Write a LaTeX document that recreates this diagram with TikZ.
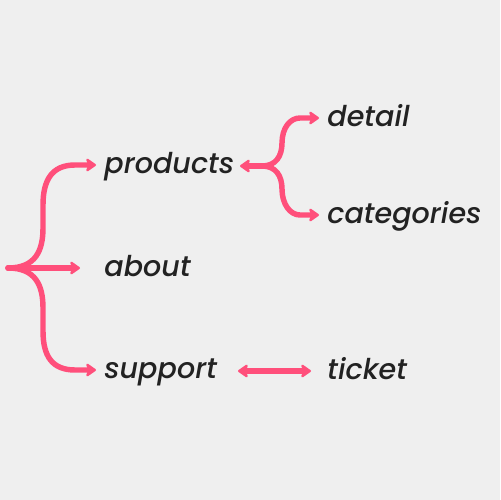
\documentclass[tikz,border=0pt]{standalone}
\usepackage{fontspec}
\newfontfamily\lblfont{Poppins Medium Italic}
\usetikzlibrary{arrows.meta}
\definecolor{bg}{HTML}{EFEFEF}
\definecolor{pinkline}{HTML}{FF4F7B}
\definecolor{txt}{HTML}{222222}
\begin{document}
\begin{tikzpicture}[x=0.02cm,y=-0.02cm,
  lbl/.style={anchor=mid west,inner sep=0pt,font=\lblfont\fontsize{16.3}{18}\selectfont,text=txt},
  conn/.style={draw=pinkline,line width=3.1pt,line cap=round,line join=round},
  tip/.style={-{Stealth[round,length=6.5pt,width=9pt,inset=1.5pt]}}]
\fill[bg] (0,0) rectangle (500,500);
\useasboundingbox (0,0) rectangle (500,500);
\coordinate (root) at (8,268);
\coordinate (pj) at (262,166);
\node[lbl] (products) at (104,170) {products};
\node[lbl] (about) at (104,273) {about};
\node[lbl] (support) at (104,375) {support};
\node[lbl] (detail) at (327,123) {detail};
\node[lbl] (categories) at (327,220) {categories};
\node[lbl] (ticket) at (327,376) {ticket};
% root branches
\draw[conn,tip] (root) .. controls (36,268) and (43,250) .. (43,228) -- (43,205)
  .. controls (43,180) and (52,165) .. (75,165) -- (96,165);
\draw[conn,tip] (root) -- (80,268);
\draw[conn,tip] (root) .. controls (36,268) and (43,286) .. (43,308) -- (43,331)
  .. controls (43,356) and (52,370) .. (75,370) -- (96,370);
% products branches
\draw[conn,tip] (pj) -- (240,166);
\draw[conn,tip] (pj) .. controls (276,166) and (282,156) .. (282,143)
  .. controls (282,128) and (290,118) .. (300,118) -- (319,118);
\draw[conn,tip] (pj) .. controls (276,166) and (282,176) .. (282,189)
  .. controls (282,204) and (290,215) .. (300,215) -- (319,215);
% support - ticket
\draw[conn,{Stealth[round,length=6.5pt,width=9pt,inset=1.5pt]}-{Stealth[round,length=6.5pt,width=9pt,inset=1.5pt]}]
  (238,371) -- (311,371);
\end{tikzpicture}
\end{document}
